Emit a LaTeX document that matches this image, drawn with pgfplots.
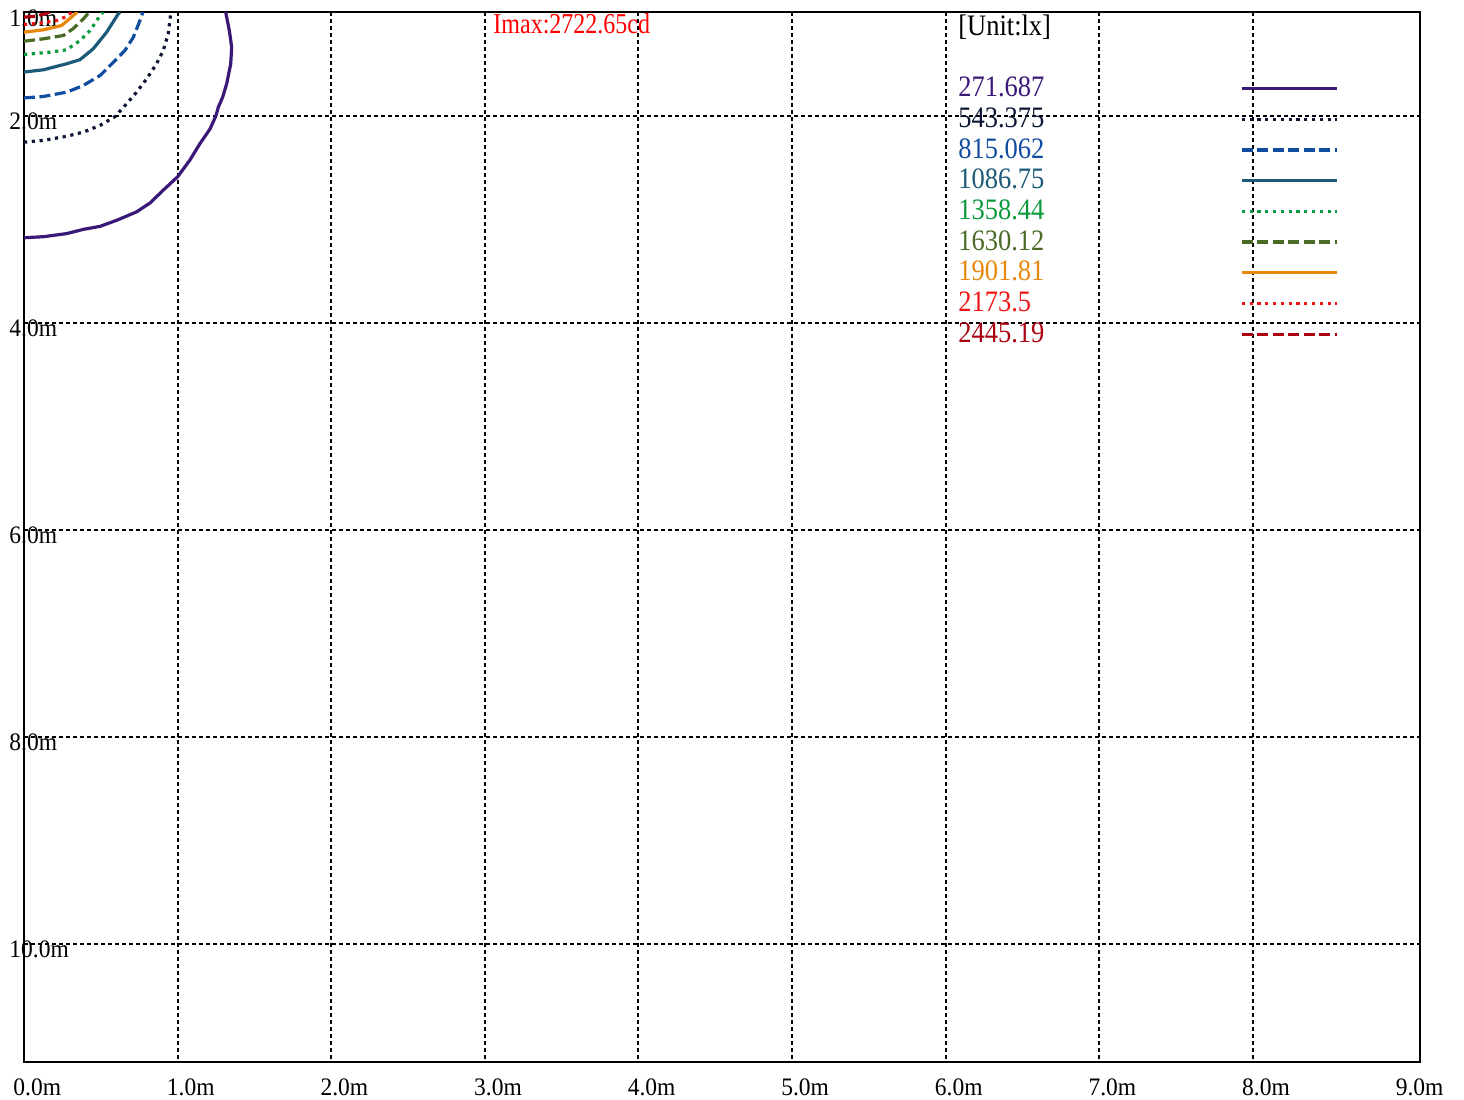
\documentclass[border=0pt]{standalone}
\usepackage{fontspec}
\setmainfont{Liberation Serif}
\usepackage{graphicx}
\usepackage{pgfplots}
\pgfplotsset{compat=1.18}

\definecolor{c1}{RGB}{58,24,120}
\definecolor{c2}{RGB}{12,22,52}
\definecolor{c3}{RGB}{16,76,160}
\definecolor{c4}{RGB}{27,90,120}
\definecolor{c5}{RGB}{10,154,60}
\definecolor{c6}{RGB}{74,107,37}
\definecolor{c7}{RGB}{232,136,10}
\definecolor{c8}{RGB}{240,20,20}
\definecolor{c9}{RGB}{170,0,16}

% the reference's glyphs are a little taller than wide
\newcommand{\legtxt}[1]{\scalebox{1}[1.12]{#1}}
\newcommand{\ticktxt}[1]{\scalebox{1}[1.07]{#1}}

\tikzset{
  isosolid/.style={solid, line width=1.6bp},
  isodot/.style={line width=1.6bp, dash pattern=on 1.6bp off 2.3bp},
  isodash/.style={line width=1.6bp, dash pattern=on 5.5bp off 2.25bp},
}

\begin{document}
\begin{tikzpicture}
\useasboundingbox (-12bp,-19bp) rectangle (720bp,531bp);
\begin{axis}[
  at={(0,0)}, anchor=south west,
  scale only axis, width=698bp, height=525bp,
  xmin=0, xmax=9.089, ymin=1, ymax=11.14,
  y dir=reverse,
  xtick={0,1,2,3,4,5,6,7,8},
  xticklabels={\ticktxt{0.0m},\ticktxt{1.0m},\ticktxt{2.0m},\ticktxt{3.0m},\ticktxt{4.0m},\ticktxt{5.0m},\ticktxt{6.0m},\ticktxt{7.0m},\ticktxt{8.0m}},
  extra x ticks={9},
  extra x tick labels={\ticktxt{9.0m}},
  extra x tick style={grid=none},
  ytick={1,2,4,6,8,10},
  yticklabels={\ticktxt{1.0m},\ticktxt{2.0m},\ticktxt{4.0m},\ticktxt{6.0m},\ticktxt{8.0m},\ticktxt{10.0m}},
  major tick length=0pt,
  grid=major,
  grid style={black, line width=1bp, dash pattern=on 2.2bp off 1.3bp},
  axis line style={line width=1bp},
  tick label style={font=\fontsize{11.75bp}{14bp}\selectfont, inner sep=0pt},
  xticklabel style={anchor=base west, xshift=-5.5bp, yshift=-16.5bp},
  yticklabel style={anchor=base west, xshift=-7.5bp, yshift=-7bp},
  no markers,
  legend plot pos=right,
  legend cell align=left,
  legend style={at={(0.6647,1.0019)}, anchor=north west, draw=none, fill=none,
    row sep=0pt, column sep=94.6bp,
    font=\fontsize{13.25bp}{15bp}\selectfont,
    nodes={inner sep=0pt, text height=10.5bp, text depth=4.85bp}},
  legend image code/.code={\path (0bp,0bp); \draw[#1] (0bp,1.3bp) -- (47.5bp,1.3bp);},
]
\addlegendimage{empty legend}
\addlegendentry{\legtxt{[Unit:lx]}}
\addlegendimage{empty legend}
\addlegendentry{}

\addplot[c1, isosolid] coordinates {
  (0,3.18) (0.126,3.17) (0.278,3.14) (0.384,3.10) (0.495,3.07) (0.606,3.01)
  (0.733,2.93) (0.820,2.845) (0.907,2.72) (1.001,2.59) (1.080,2.43)
  (1.146,2.27) (1.211,2.13) (1.250,2.00) (1.265,1.92) (1.294,1.82)
  (1.320,1.69) (1.346,1.50) (1.352,1.34) (1.337,1.18) (1.313,1.00)
};
\addlegendentry[text=c1]{\legtxt{271.687}}
\addplot[c2, isodot] coordinates {
  (0,2.257) (0.126,2.24) (0.278,2.20) (0.386,2.16) (0.495,2.095) (0.593,2.01)
  (0.668,1.886) (0.733,1.774) (0.799,1.645) (0.863,1.50) (0.907,1.37)
  (0.939,1.21) (0.955,1.017) (0.959,1.0)
};
\addlegendentry[text=c2]{\legtxt{543.375}}
\addplot[c3, isodash] coordinates {
  (0,1.83) (0.126,1.816) (0.278,1.774) (0.386,1.71) (0.495,1.613)
  (0.582,1.485) (0.657,1.372) (0.712,1.243) (0.755,1.082) (0.774,1.0)
};
\addlegendentry[text=c3]{\legtxt{815.062}}
\addplot[c4, isosolid] coordinates {
  (0,1.58) (0.126,1.558) (0.278,1.50) (0.365,1.46) (0.451,1.355)
  (0.538,1.195) (0.614,1.017) (0.626,1.0)
};
\addlegendentry[text=c4]{\legtxt{1086.75}}
\addplot[c5, isodot] coordinates {
  (0,1.41) (0.170,1.388) (0.278,1.365) (0.365,1.275) (0.430,1.18)
  (0.495,1.034) (0.515,1.0)
};
\addlegendentry[text=c5]{\legtxt{1358.44}}
\addplot[c6, isodash] coordinates {
  (0,1.282) (0.126,1.259) (0.256,1.227) (0.321,1.16) (0.387,1.066) (0.425,1.0)
};
\addlegendentry[text=c6]{\legtxt{1630.12}}
\addplot[c7, isosolid] coordinates {
  (0,1.195) (0.126,1.172) (0.245,1.13) (0.289,1.075) (0.347,1.0)
};
\addlegendentry[text=c7]{\legtxt{1901.81}}
\addplot[c8, isodot] coordinates {
  (0,1.12) (0.104,1.108) (0.213,1.082) (0.278,1.043) (0.310,1.0)
};
\addlegendentry[text=c8]{\legtxt{2173.5}}
\addplot[c9, isodash] coordinates {
  (0,1.05) (0.083,1.04) (0.170,1.0)
};
\addlegendentry[text=c9]{\legtxt{2445.19}}

\node[anchor=base west, inner sep=0pt, text=red, font=\fontsize{12bp}{14bp}\selectfont]
  at (axis description cs:0.336,0.9795) {\scalebox{1}[1.2]{Imax:2722.65cd}};
\end{axis}
\end{tikzpicture}
\end{document}
